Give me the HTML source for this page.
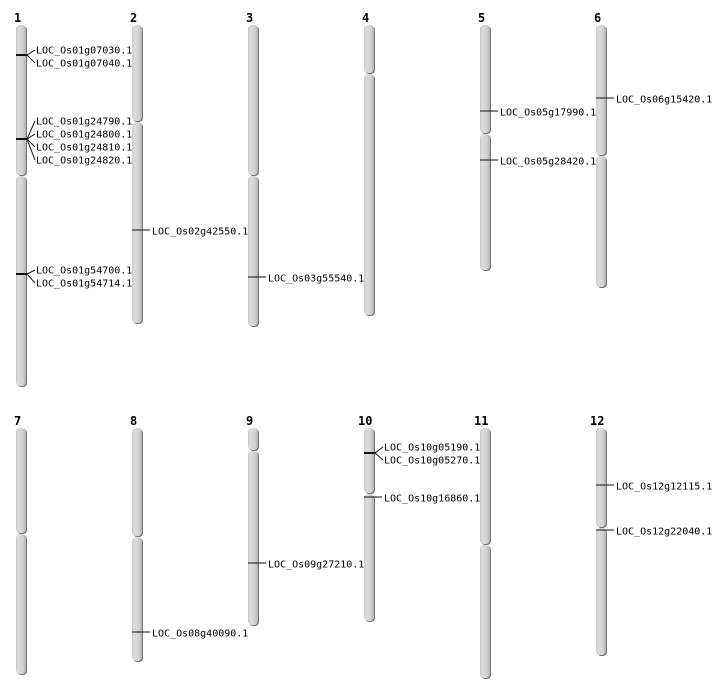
<!DOCTYPE html>
<html><head><meta charset="utf-8"><style>
html,body{margin:0;padding:0;background:#fff;width:712px;height:700px;overflow:hidden}
svg text{font-family:"DejaVu Sans Mono","Liberation Mono",monospace;font-size:10px;fill:#000}
svg text.n{font-family:"DejaVu Sans Mono","Liberation Mono",monospace;font-weight:bold;font-size:12px}
</style></head><body>
<svg width="712" height="700" xmlns="http://www.w3.org/2000/svg">
<defs>
<linearGradient id="g" x1="0" x2="1" y1="0" y2="0">
<stop offset="0" stop-color="#c8c8c8"/><stop offset="0.25" stop-color="#dcdcdc"/><stop offset="0.7" stop-color="#d2d2d2"/><stop offset="1" stop-color="#b0b0b0"/>
</linearGradient>
</defs>
<g fill="#777">
<rect x="17" y="26" width="10" height="150" rx="4"/><rect x="17" y="177" width="10" height="210" rx="4"/>
<rect x="133" y="26" width="10" height="96" rx="4"/><rect x="133" y="123" width="10" height="201" rx="4"/>
<rect x="249" y="26" width="10" height="150" rx="4"/><rect x="249" y="177" width="10" height="150" rx="4"/>
<rect x="365" y="26" width="10" height="48" rx="4"/><rect x="365" y="75" width="10" height="241" rx="4"/>
<rect x="481" y="26" width="10" height="108" rx="4"/><rect x="481" y="135" width="10" height="136" rx="4"/>
<rect x="597" y="26" width="10" height="130" rx="4"/><rect x="597" y="157" width="10" height="131" rx="4"/>
<rect x="17" y="429" width="10" height="105" rx="4"/><rect x="17" y="535" width="10" height="140" rx="4"/>
<rect x="133" y="429" width="10" height="108" rx="4"/><rect x="133" y="538" width="10" height="124" rx="4"/>
<rect x="249" y="429" width="10" height="22" rx="4"/><rect x="249" y="452" width="10" height="174" rx="4"/>
<rect x="365" y="429" width="10" height="65" rx="4"/><rect x="365" y="495" width="10" height="127" rx="4"/>
<rect x="481" y="429" width="10" height="116" rx="4"/><rect x="481" y="546" width="10" height="133" rx="4"/>
<rect x="597" y="429" width="10" height="99" rx="4"/><rect x="597" y="529" width="10" height="127" rx="4"/>
</g>
<g fill="url(#g)">
<rect x="16" y="25" width="10" height="150" rx="4"/><rect x="16" y="176" width="10" height="210" rx="4"/>
<rect x="132" y="25" width="10" height="96" rx="4"/><rect x="132" y="122" width="10" height="201" rx="4"/>
<rect x="248" y="25" width="10" height="150" rx="4"/><rect x="248" y="176" width="10" height="150" rx="4"/>
<rect x="364" y="25" width="10" height="48" rx="4"/><rect x="364" y="74" width="10" height="241" rx="4"/>
<rect x="480" y="25" width="10" height="108" rx="4"/><rect x="480" y="134" width="10" height="136" rx="4"/>
<rect x="596" y="25" width="10" height="130" rx="4"/><rect x="596" y="156" width="10" height="131" rx="4"/>
<rect x="16" y="428" width="10" height="105" rx="4"/><rect x="16" y="534" width="10" height="140" rx="4"/>
<rect x="132" y="428" width="10" height="108" rx="4"/><rect x="132" y="537" width="10" height="124" rx="4"/>
<rect x="248" y="428" width="10" height="22" rx="4"/><rect x="248" y="451" width="10" height="174" rx="4"/>
<rect x="364" y="428" width="10" height="65" rx="4"/><rect x="364" y="494" width="10" height="127" rx="4"/>
<rect x="480" y="428" width="10" height="116" rx="4"/><rect x="480" y="545" width="10" height="133" rx="4"/>
<rect x="596" y="428" width="10" height="99" rx="4"/><rect x="596" y="528" width="10" height="127" rx="4"/>
</g>
<g>
<text class="n" x="14" y="22">1</text><text class="n" x="130" y="22">2</text><text class="n" x="246" y="22">3</text>
<text class="n" x="362" y="22">4</text><text class="n" x="478" y="22">5</text><text class="n" x="594" y="22">6</text>
<text class="n" x="14" y="425">7</text><text class="n" x="130" y="425">8</text><text class="n" x="246" y="425">9</text>
<text class="n" x="358" y="425">10</text><text class="n" x="474" y="425">11</text><text class="n" x="590" y="425">12</text>
</g>
<g stroke="#111" stroke-width="1" fill="none">
<line x1="16" y1="55" x2="27" y2="55" stroke-width="2"/><polyline points="27,55 35,50"/><polyline points="27,55 35,63"/>
<line x1="16" y1="139" x2="27" y2="139" stroke-width="2"/>
<polyline points="27,139 35,121"/><polyline points="27,139 35,134"/><polyline points="27,139 35,147"/><polyline points="27,139 35,160"/>
<line x1="16" y1="274" x2="27" y2="274" stroke-width="2"/><polyline points="27,274 35,270"/><polyline points="27,274 35,283"/>
<line x1="132" y1="230" x2="150" y2="230"/>
<line x1="248" y1="277" x2="266" y2="277"/>
<line x1="480" y1="111" x2="498" y2="111"/>
<line x1="480" y1="160" x2="498" y2="160"/>
<line x1="596" y1="98" x2="614" y2="98"/>
<line x1="132" y1="632" x2="150" y2="632"/>
<line x1="248" y1="563" x2="266" y2="563"/>
<line x1="364" y1="453" x2="375" y2="453" stroke-width="2"/><polyline points="375,453 383,447"/><polyline points="375,453 383,460"/>
<line x1="364" y1="497" x2="382" y2="497"/>
<line x1="596" y1="485" x2="614" y2="485"/>
<line x1="596" y1="530" x2="614" y2="530"/>
</g>
<g dominant-baseline="central">
<text x="36" y="51">LOC_Os01g07030.1</text><text x="36" y="64">LOC_Os01g07040.1</text>
<text x="36" y="122">LOC_Os01g24790.1</text><text x="36" y="135">LOC_Os01g24800.1</text>
<text x="36" y="148">LOC_Os01g24810.1</text><text x="36" y="161">LOC_Os01g24820.1</text>
<text x="36" y="271">LOC_Os01g54700.1</text><text x="36" y="284">LOC_Os01g54714.1</text>
<text x="152" y="232">LOC_Os02g42550.1</text>
<text x="268" y="279">LOC_Os03g55540.1</text>
<text x="500" y="113">LOC_Os05g17990.1</text>
<text x="500" y="162">LOC_Os05g28420.1</text>
<text x="616" y="100">LOC_Os06g15420.1</text>
<text x="152" y="634">LOC_Os08g40090.1</text>
<text x="268" y="565">LOC_Os09g27210.1</text>
<text x="384" y="448">LOC_Os10g05190.1</text><text x="384" y="461">LOC_Os10g05270.1</text>
<text x="384" y="499">LOC_Os10g16860.1</text>
<text x="616" y="487">LOC_Os12g12115.1</text>
<text x="616" y="532">LOC_Os12g22040.1</text>
</g>
</svg>
</body></html>
